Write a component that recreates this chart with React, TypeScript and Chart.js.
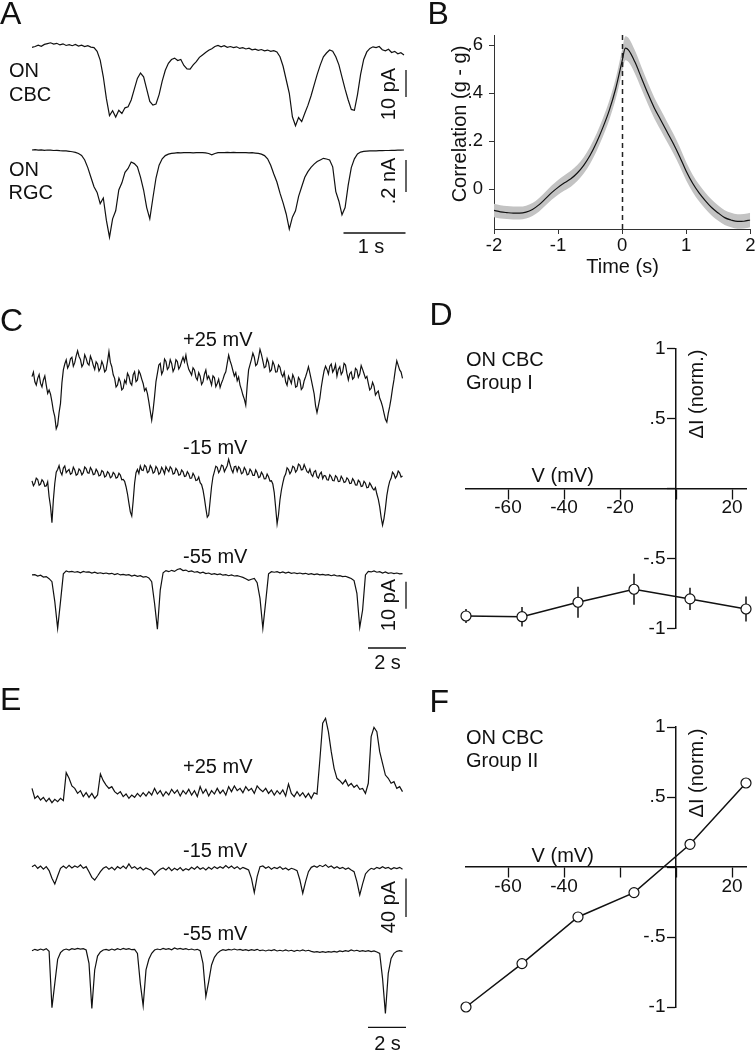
import React, { useEffect, useRef } from 'react';
import { Chart, registerables } from 'chart.js';

Chart.register(...registerables);

const FONT = '"Liberation Sans", Arial, Helvetica, sans-serif';
Chart.defaults.font.family = FONT;
Chart.defaults.color = '#111';

// ---------------- DATA ----------------
// Panel A: ON CBC current (pA) and ON RGC current (nA), sampled every dtA seconds
const dtA = 0.05;
const cbcTrace = [-0.5,-0.2,0.3,-0.1,0.6,0.9,1.2,0.7,1.0,0.4,0.8,0.2,0.5,0.1,0.6,0.0,0.3,-0.2,0.1,-0.4,-0.6,-2.0,-5.2,-11.4,-19.5,-25.8,-24.0,-26.3,-23.8,-25.0,-22.9,-22.5,-20.0,-16.0,-12.0,-10.0,-11.4,-16.0,-20.5,-21.9,-21.5,-18.0,-13.0,-9.0,-6.4,-5.0,-4.5,-5.4,-5.0,-7.2,-8.5,-8.6,-7.0,-5.8,-4.2,-3.3,-2.4,-1.6,-1.0,-0.2,0.2,-0.3,0.1,-0.5,-0.2,-0.6,-0.3,-0.9,-0.6,-1.1,-0.8,-1.4,-1.2,-1.6,-1.3,-1.8,-1.5,-2.0,-1.7,-2.2,-4.0,-7.5,-12.5,-17.5,-26.2,-29.5,-26.5,-28.0,-24.9,-22.0,-18.5,-14.5,-10.5,-7.0,-4.0,-2.6,-1.5,-1.9,-4.0,-7.0,-11.5,-16.0,-20.0,-23.5,-23.8,-18.0,-10.5,-5.0,-2.2,-0.9,-0.3,-0.6,-0.2,-1.4,-1.8,-1.2,-2.4,-2.0,-2.9,-2.5,-3.3];
const rgcTrace = [0,0.002,-0.001,0.001,-0.002,0,-0.001,-0.003,-0.002,-0.004,-0.005,-0.006,-0.008,-0.011,-0.015,-0.022,-0.034,-0.062,-0.11,-0.17,-0.23,-0.265,-0.335,-0.3,-0.44,-0.545,-0.43,-0.38,-0.25,-0.205,-0.14,-0.115,-0.075,-0.085,-0.105,-0.17,-0.25,-0.36,-0.43,-0.3,-0.175,-0.095,-0.055,-0.035,-0.026,-0.021,-0.019,-0.017,-0.018,-0.016,-0.017,-0.016,-0.018,-0.016,-0.017,-0.016,-0.018,-0.022,-0.03,-0.022,-0.017,-0.016,-0.017,-0.015,-0.016,-0.015,-0.017,-0.016,-0.017,-0.016,-0.018,-0.017,-0.019,-0.021,-0.026,-0.035,-0.055,-0.095,-0.15,-0.2,-0.27,-0.33,-0.4,-0.495,-0.42,-0.38,-0.29,-0.23,-0.17,-0.135,-0.108,-0.088,-0.072,-0.062,-0.052,-0.056,-0.062,-0.105,-0.26,-0.32,-0.405,-0.36,-0.22,-0.11,-0.055,-0.025,-0.013,-0.009,-0.007,-0.006,-0.005,-0.005,-0.004,-0.004,-0.003,-0.003,-0.002,-0.002,-0.001,-0.001,0];

// Panel C: ON CBC currents (pA); +25 and -15 mV sampled every dtFine, -55 mV every dtCE
const dtFine = 0.075;
const dtCE = 0.15;
const cPlus25 = [-3.7,-2.0,-5.6,-6.8,-4.3,-2.9,-6.2,-7.5,-4.9,-3.4,-6.8,-9.9,-8.6,-10.2,-13.0,-16.4,-18.5,-23.0,-21.6,-17.0,-13.6,-6.0,-1.2,1.0,2.5,-0.5,0.6,2.9,3.5,0.2,1.5,4.0,5.9,3.8,2.7,0.0,1.0,4.4,3.1,1.2,0.6,3.9,2.5,0.5,-1.0,1.8,1.0,-1.6,-0.6,2.0,0.6,-1.9,-1.2,2.0,5.6,1.6,0,-3.0,-4.3,-7.5,-6.8,-4.2,-5.6,-8.6,-8.0,-5.0,-6.2,-2.4,-3.5,-6.0,-6.8,-3.0,-1.9,-5.5,-4.9,-1.5,-2.7,-4.6,-6.2,-8.9,-8.0,-10.0,-13.0,-16.5,-19.8,-16.0,-11.1,-5.5,-2.5,0.6,1.2,-2.8,-1.5,2.8,1.9,-1.0,-0.2,2.6,1.2,-1.8,-0.6,2.6,1.9,-0.8,0.2,2.0,3.5,1.8,4.3,1.0,-1.0,-2.0,-3.1,-0.4,-1.2,-3.9,-4.9,-2.2,-3.5,-6.6,-5.6,-2.8,-1.2,-4.6,-3.5,-5.0,-6.8,-3.4,-4.0,-7.4,-6.2,-4.6,-7.7,-6.0,-4.7,-3.0,-1.9,1.2,4.3,2.2,0.6,-1.5,-3.5,-2.2,-5.2,-3.8,-6.8,-8.5,-10.5,-12.0,-14.2,-7.0,-1.2,0.8,2.7,5.0,3.5,0.4,1.0,3.4,6.4,4.6,2.2,-0.4,0,3.0,1.5,-1.8,-1.2,1.9,0.6,-2.0,-1.9,0.6,-0.2,-2.6,-3.7,-2.0,-5.6,-6.9,-3.5,-4.8,-6.2,-3.0,-4.3,-7.6,-7.2,-4.0,-4.9,-8.4,-7.7,-5.2,-3.7,-2.0,0,-2.4,-4.9,-7.5,-10.1,-14.5,-17.0,-14.4,-11.7,-7.6,-4.3,-1.5,0.2,-1.0,-2.7,0.2,1.0,-2.0,-1.0,0.8,-3.5,-1.0,0,-2.9,-1.9,1.2,0.6,-2.5,-4.9,-2.6,-1.9,-4.6,-4.0,-0.6,-1.2,-3.9,-2.7,0.4,-1.0,-2.6,-4.3,-3.6,-6.2,-8.6,-8.0,-5.8,-7.2,-10.5,-9.6,-9.0,-11.7,-13.0,-14.8,-17.2,-19.5,-20.5,-17.3,-14.8,-11.7,-8.0,-4.9,-1.0,2.2,0.5,-1.2,-2.0,-4.3];
const cMinus15 = [-4.0,-5.8,-4.9,-3.0,-3.5,-5.6,-5.2,-3.6,-4.3,-6.0,-5.9,-4.4,-9.9,-13.5,-19.5,-11.0,-4.9,-0.8,0.2,1.6,-0.7,-1.8,0.7,1.5,-1.0,-0.3,0.2,-1.6,-1.2,1.0,0,-1.9,-1.5,0.4,-0.2,-1.8,-1.0,1.1,0.5,-1.0,-1.2,0.9,0,-1.7,-1.5,0.3,-0.6,-2.2,-1.9,-0.2,-0.7,-2.6,-2.2,-0.6,-1.2,-2.9,-2.5,-0.9,-1.5,-3.0,-2.7,-1.2,-1.9,-3.6,-3.5,-4.2,-6.2,-8.8,-12.3,-15.5,-17.0,-11.5,-4.9,-1.0,0.2,-1.3,1.5,0.0,-0.2,1.8,1.2,-1.0,-0.5,1.6,0.7,-1.2,-0.7,1.3,0.5,-1.6,-1.0,1.0,0,-1.4,1.2,0.2,-0.6,1.2,0.5,-1.5,-1.2,0.6,-0.2,-1.9,-1.7,0.0,-0.7,-2.4,-2.2,-0.6,-1.5,-3.1,-3.0,-1.2,-2.2,-3.9,-3.7,-2.6,-4.7,-5.4,-7.4,-10.5,-14.2,-17.5,-16.7,-11.5,-6.2,-2.5,-0.6,1.4,1.0,-1.0,0,1.8,1.5,-0.6,0.5,1.6,4.0,2.0,0.2,-1.0,1.2,1.4,-0.5,1.2,0.5,-1.4,-1.0,0.9,0,-1.8,-1.5,0.3,-0.5,-2.0,-2.0,0.0,-1.0,-2.8,-2.5,-0.8,-1.7,-3.3,-3.2,-1.5,-2.5,-4.1,-4.0,-5.2,-8.4,-14.0,-20.0,-16.5,-11.1,-7.5,-4.9,-2.6,-1.5,0.8,0.2,-1.4,-0.5,1.4,1.0,-0.8,0,2.2,1.7,0.0,0.2,2.0,0.7,-0.6,-1.0,0.3,-1.7,-2.4,-0.7,-0.2,-2.5,-3.0,-1.5,-0.8,-3.2,-2.0,-2.2,-3.6,-3.7,-1.8,-2.5,-3.9,-4.0,-2.1,-2.7,-4.3,-4.2,-2.3,-3.2,-4.6,-4.4,-2.9,-3.5,-5.0,-4.9,-3.2,-4.0,-5.5,-5.6,-3.8,-4.4,-6.1,-5.9,-4.2,-4.9,-6.6,-6.4,-4.8,-5.7,-6.8,-7.4,-6.5,-8.9,-10.8,-13.6,-17.5,-20.4,-18.0,-14.2,-9.5,-6.4,-4.2,-3.1,-0.8,-1.5,-3.0,-2.2,-0.4,-1.0,-2.6,-2.2];
const cMinus55 = [-0.6,-0.5,-1.0,-0.7,-1.4,-1.2,-2.0,-3.1,-10.5,-20.4,-10.5,-0.2,0.9,0.5,0.7,0.4,0.6,0.2,0.7,0.4,0.5,0.1,0.4,0,0.2,-0.1,0.1,-0.2,0,-0.5,-0.1,-0.6,-0.4,-0.7,-0.5,-1.0,-0.7,-1.1,-0.9,-1.4,-1.2,-1.7,-3.1,-11.1,-20.7,-6.2,0.2,1.0,0.6,1.1,0.7,1.4,1.7,1.0,1.2,0.6,0.9,0.4,0.6,0.1,0.4,-0.1,0.1,-0.4,-0.1,-0.5,-0.2,-0.7,-0.5,-0.9,-0.6,-1.0,-0.9,-1.2,-1.5,-2.0,-2.6,-2.2,-1.9,-3.5,-9.3,-20.4,-10.5,-0.2,0.6,0.4,0.6,0.2,0.5,0.1,0.4,0,0.2,-0.1,0.1,-0.2,0,-0.4,-0.1,-0.5,-0.2,-0.6,-0.4,-0.7,-0.5,-0.9,-0.6,-1.0,-0.9,-1.2,-1.1,-1.5,-1.9,-2.7,-7.4,-20.0,-13.6,-0.6,0.7,0.5,0.9,0.4,0.6,0.1,0.5,0,0.2,-0.1,0.1,-0.2,-0.1];

// Panel E: ON CBC currents (pA), sampled every dtCE seconds
const ePlus25 = [6.9,-3.5,-1.0,-5.2,-2.4,-6.9,-3.5,-8.0,-4.5,-6.9,-3.5,-5.9,23.3,17.4,9.4,6.9,1.7,4.5,-1.7,2.4,-2.4,1.7,-3.5,0,21.9,14.9,10.4,6.9,8.7,3.5,1.0,3.5,-1.7,1.0,-3.5,0,-2.4,1.7,-1.7,2.4,-1.0,3.5,0,6.9,1.0,4.5,-1.0,3.5,0,5.9,1.7,5.2,-1.0,4.5,1.0,5.9,0,4.5,-1.7,8.7,1.7,5.9,-1.0,4.5,1.0,6.9,1.7,5.2,0,8.7,3.5,9.4,4.5,6.9,2.4,8.7,4.5,6.9,1.7,9.4,5.9,3.5,6.9,1.7,5.2,0,4.5,1.0,5.2,-1.0,11.5,1.7,-1.7,3.5,-1.0,2.4,-2.4,1.7,-3.5,2.4,1.0,36.5,74.7,79.9,66.0,45.1,27.8,17.4,14.9,11.5,15.6,9.4,12.2,8.0,10.4,5.9,6.9,1.7,12.2,60.8,70.5,66.0,45.1,33.0,20.8,17.4,12.2,13.9,6.9,8.7,3.5];
const eMinus15 = [1.7,3.5,0,2.4,-1.0,1.7,-2.4,-10.4,-16.3,-8.0,0,2.4,0,3.1,0.3,2.4,1.0,3.5,0,1.7,-3.5,-9.4,-12.2,-8.0,-3.5,0,1.7,-1.0,1.0,-1.7,1.7,-0.3,2.4,-0.3,4.5,0,1.7,-1.0,1.0,-1.7,0.3,-1.0,-2.4,-6.9,-3.5,-1.0,0.3,-1.7,1.0,-2.4,0,-1.7,0.7,-2.4,-0.3,-1.7,1.0,-1.0,1.7,-1.0,0.7,-1.7,1.0,-1.0,1.7,-0.3,1.7,0,2.8,0.3,2.4,-0.3,1.7,-1.0,1.0,-0.3,-1.7,-10.4,-25.3,-8.7,1.7,2.4,0,1.7,-1.0,1.0,-0.3,1.7,-1.0,0.3,-1.7,0,-1.0,-2.4,-12.2,-26.0,-13.9,-3.5,1.0,2.4,1.0,3.1,1.7,3.8,1.0,2.4,0,1.7,-0.3,1.0,-1.0,0.3,-1.7,-3.5,-13.9,-27.8,-16.3,-5.9,-2.4,0,-1.0,1.0,-0.3,1.7,0,1.0,-1.0,0.7,-0.3,1.0,-1.0];
const eMinus55 = [-0.7,0.7,-0.3,1.0,0,1.4,-1.4,-60.0,-34.7,-9.7,-2.8,0,1.0,0,1.4,0.7,1.7,1.0,1.4,0,-13.9,-60.8,-20.8,-6.3,-2.1,0,0.7,-0.3,1.0,0,1.4,0.3,1.7,0.7,1.4,0.3,0.7,-3.5,-34.7,-58.0,-20.8,-9.7,-3.5,0,1.0,0.3,1.7,0.7,1.4,0.3,2.1,1.0,1.7,0.7,1.4,0.3,1.0,0,0.7,-0.7,-13.9,-48.6,-33.0,-15.6,-7.6,-3.5,-1.0,0.3,-0.3,0.7,0,1.0,0,0.7,-0.3,0.3,-0.7,0.3,-0.3,0.7,-0.7,0,-1.0,0,-0.7,0.3,-1.0,-0.3,-1.0,0,-1.0,-0.3,-1.4,-0.3,-1.0,0,-1.0,-0.3,-1.4,-2.1,-1.7,-2.4,-1.7,-2.4,-1.7,-2.1,-1.4,-2.1,-1.0,-1.7,-0.7,-1.4,0,-1.0,-0.3,-1.4,-0.7,-1.4,-0.7,-1.7,-1.0,-2.1,-3.5,-29.5,-66.0,-24.3,-8.7,-3.5,-1.4,-0.7,-1.4];

// Panel B: cross-correlation (g - g), mean and s.e.m.
const corrTime = [-2,-1.9,-1.8,-1.7,-1.6,-1.5,-1.4,-1.3,-1.2,-1.1,-1,-0.9,-0.8,-0.7,-0.6,-0.5,-0.4,-0.3,-0.2,-0.1,0,0.05,0.1,0.2,0.3,0.4,0.5,0.6,0.7,0.8,0.9,1,1.1,1.2,1.3,1.4,1.5,1.6,1.7,1.8,1.9,2];
const corrMean = [-0.088,-0.094,-0.097,-0.099,-0.099,-0.095,-0.084,-0.065,-0.04,-0.014,0.008,0.027,0.044,0.068,0.1,0.142,0.195,0.258,0.33,0.42,0.535,0.588,0.58,0.53,0.465,0.4,0.34,0.29,0.24,0.19,0.135,0.075,0.025,-0.015,-0.048,-0.077,-0.099,-0.118,-0.128,-0.134,-0.133,-0.128];
const corrSem = [0.028,0.028,0.027,0.027,0.027,0.027,0.027,0.028,0.029,0.03,0.031,0.032,0.033,0.033,0.034,0.035,0.036,0.038,0.04,0.043,0.048,0.05,0.05,0.048,0.046,0.045,0.044,0.043,0.042,0.041,0.04,0.038,0.036,0.035,0.034,0.033,0.032,0.031,0.03,0.03,0.03,0.03];
const corrXTicks = [-2, -1, 0, 1, 2];
const corrYTicks = [0, 0.2, 0.4, 0.6];

// Panels D and F: normalized current change vs holding potential
const ivVoltage = [-75, -55, -35, -15, 5, 25];
const groupIMean = [-0.912, -0.917, -0.814, -0.721, -0.79, -0.862];
const groupISem = [0.05, 0.07, 0.11, 0.11, 0.08, 0.09];
const groupIIMean = [-1.0, -0.69, -0.357, -0.183, 0.162, 0.6];
const groupIISem = [0.02, 0.035, 0.025, 0.02, 0.02, 0.02];
const ivXTicks = [-60, -40, -20, 0, 20];
const ivYTicks = [-1, -0.5, 0, 0.5, 1];

// ---------------- HELPERS ----------------
const INK = '#111';
const fmt = (v: number) => {
  if (v === 0) return '0';
  const s = String(Math.round(v * 100) / 100);
  return s.replace(/^(-?)0\./, '$1.');
};

type Box = { left: number; top: number; width: number; height: number };
type TraceSpec = { values: number[]; dt: number; baseY: number; pxPerUnit: number };
type Bar = { kind: 'v' | 'h'; axis: string; amount: number; x: number; y: number };

function scaleBarPlugin(box: Box, bars: Bar[]) {
  return {
    id: 'scaleBars',
    afterDatasetsDraw(chart: any) {
      const ctx = chart.ctx;
      ctx.save();
      ctx.strokeStyle = INK;
      ctx.lineWidth = 1.3;
      bars.forEach((b) => {
        const s = chart.scales[b.axis];
        const len = Math.abs(s.getPixelForValue(b.amount) - s.getPixelForValue(0));
        const x = b.x - box.left;
        const y = b.y - box.top;
        ctx.beginPath();
        if (b.kind === 'v') {
          ctx.moveTo(x, y);
          ctx.lineTo(x, y + len);
        } else {
          ctx.moveTo(x - len, y);
          ctx.lineTo(x, y);
        }
        ctx.stroke();
      });
      ctx.restore();
    },
  };
}

function traceConfig(box: Box, x0Page: number, pxPerSec: number, traces: TraceSpec[], bars: Bar[]) {
  const scales: any = {
    x: {
      type: 'linear',
      display: false,
      min: (box.left - x0Page) / pxPerSec,
      max: (box.left + box.width - x0Page) / pxPerSec,
    },
  };
  traces.forEach((tr, i) => {
    scales['y' + i] = {
      type: 'linear',
      axis: 'y',
      display: false,
      max: (tr.baseY - box.top) / tr.pxPerUnit,
      min: -(box.top + box.height - tr.baseY) / tr.pxPerUnit,
    };
  });
  const datasets = traces.map((tr, i) => ({
    data: tr.values.map((v, k) => ({ x: k * tr.dt, y: v })),
    yAxisID: 'y' + i,
    borderColor: INK,
    borderWidth: 1.2,
    pointRadius: 0,
    fill: false,
    tension: 0,
  }));
  return {
    type: 'line',
    data: { datasets },
    options: {
      animation: false,
      responsive: false,
      devicePixelRatio: 1,
      events: [],
      layout: { padding: 0 },
      plugins: { legend: { display: false }, tooltip: { enabled: false } },
      scales,
    },
    plugins: [scaleBarPlugin(box, bars)],
  };
}

const zeroPad = (s: any) => {
  s.paddingLeft = 0;
  s.paddingRight = 0;
  s.paddingTop = 0;
  s.paddingBottom = 0;
};

function corrConfig() {
  const upper = corrTime.map((t, i) => ({ x: t, y: corrMean[i] + corrSem[i] }));
  const lower = corrTime.map((t, i) => ({ x: t, y: corrMean[i] - corrSem[i] }));
  const mean = corrTime.map((t, i) => ({ x: t, y: corrMean[i] }));
  const dashPlugin = {
    id: 'zeroDash',
    afterDatasetsDraw(chart: any) {
      const ctx = chart.ctx;
      const x = Math.round(chart.scales.x.getPixelForValue(0)) + 0.5;
      ctx.save();
      ctx.strokeStyle = '#222';
      ctx.lineWidth = 1.5;
      ctx.setLineDash([5, 4]);
      ctx.beginPath();
      ctx.moveTo(x, chart.chartArea.top);
      ctx.lineTo(x, chart.chartArea.bottom);
      ctx.stroke();
      ctx.restore();
    },
  };
  const axisCommon = {
    grid: { drawOnChartArea: false, tickLength: 5, tickColor: '#333', tickWidth: 1 },
    border: { color: '#333', width: 1 },
  };
  return {
    type: 'line',
    data: {
      datasets: [
        { data: mean, borderWidth: 1.2, borderColor: INK, pointRadius: 0, fill: false, cubicInterpolationMode: 'monotone', order: 0 },
        { data: upper, borderWidth: 0, borderColor: 'rgba(0,0,0,0)', pointRadius: 0, fill: '+1', backgroundColor: '#c3c3c3', cubicInterpolationMode: 'monotone', order: 1 },
        { data: lower, borderWidth: 0, borderColor: 'rgba(0,0,0,0)', pointRadius: 0, fill: false, cubicInterpolationMode: 'monotone', order: 2 },
      ],
    },
    options: {
      animation: false,
      responsive: false,
      devicePixelRatio: 1,
      events: [],
      layout: { padding: { left: 0, right: 4.7, top: 35, bottom: 0 } },
      plugins: { legend: { display: false }, tooltip: { enabled: false } },
      scales: {
        x: {
          type: 'linear',
          min: -2,
          max: 2,
          ...axisCommon,
          afterBuildTicks: (s: any) => { s.ticks = corrXTicks.map((v) => ({ value: v })); },
          afterFit: (s: any) => { s.height = 46; zeroPad(s); },
          ticks: { font: { size: 18.5, lineHeight: 1 }, padding: 3, color: '#111', maxRotation: 0, autoSkip: false, callback: (v: any) => fmt(Number(v)) },
        },
        y: {
          type: 'linear',
          min: -0.1654,
          max: 0.643,
          ...axisCommon,
          afterBuildTicks: (s: any) => { s.ticks = corrYTicks.map((v) => ({ value: v })); },
          afterFit: (s: any) => { s.width = 74; zeroPad(s); },
          ticks: { font: { size: 18.5, lineHeight: 1 }, padding: 6, color: '#111', autoSkip: false, callback: (v: any) => fmt(Number(v)) },
        },
      },
    },
    plugins: [dashPlugin],
  };
}

function ivConfig(mean: number[], sem: number[], hiddenX: number[], padTop: number, padBottom: number) {
  const errPlugin = {
    id: 'errBars',
    beforeDatasetsDraw(chart: any) {
      const ctx = chart.ctx;
      const xs = chart.scales.x;
      const ys = chart.scales.y;
      ctx.save();
      ctx.strokeStyle = INK;
      ctx.lineWidth = 1.5;
      ivVoltage.forEach((v, i) => {
        const x = xs.getPixelForValue(v);
        ctx.beginPath();
        ctx.moveTo(x, ys.getPixelForValue(mean[i] + sem[i]));
        ctx.lineTo(x, ys.getPixelForValue(mean[i] - sem[i]));
        ctx.stroke();
      });
      ctx.restore();
    },
  };
  return {
    type: 'line',
    data: {
      datasets: [
        {
          data: ivVoltage.map((v, i) => ({ x: v, y: mean[i] })),
          borderColor: INK,
          borderWidth: 1.5,
          pointRadius: 5,
          pointBackgroundColor: '#fff',
          pointBorderColor: INK,
          pointBorderWidth: 1.2,
          clip: false,
          tension: 0,
          fill: false,
        },
      ],
    },
    options: {
      animation: false,
      responsive: false,
      devicePixelRatio: 1,
      events: [],
      layout: { padding: { left: 46, right: 9, top: padTop, bottom: padBottom } },
      plugins: { legend: { display: false }, tooltip: { enabled: false } },
      scales: {
        x: {
          type: 'linear',
          min: -75,
          max: 25,
          position: { y: 0 },
          afterBuildTicks: (s: any) => { s.ticks = ivXTicks.map((v) => ({ value: v })); },
          afterFit: (s: any) => zeroPad(s),
          grid: { drawOnChartArea: false, tickLength: 10, tickColor: INK, tickWidth: 1.3 },
          border: { color: INK, width: 1.5 },
          ticks: {
            font: { size: 19, lineHeight: 1 },
            padding: 0,
            color: '#111',
            maxRotation: 0,
            autoSkip: false,
            callback: (v: any) => (Number(v) === 0 || hiddenX.includes(Number(v)) ? '' : String(v)),
          },
        },
        y: {
          type: 'linear',
          min: -1,
          max: 1,
          position: { x: 0 },
          afterBuildTicks: (s: any) => { s.ticks = ivYTicks.map((v) => ({ value: v })); },
          afterFit: (s: any) => zeroPad(s),
          grid: { drawOnChartArea: false, tickLength: 8, tickColor: INK, tickWidth: 1.3 },
          border: { color: INK, width: 1.5 },
          ticks: {
            font: { size: 19, lineHeight: 1 },
            padding: 3,
            color: '#111',
            autoSkip: false,
            // trailing spaces keep the right-aligned label clear of the tick mark
            callback: (v: any) => (Number(v) === 0 ? '' : fmt(Number(v)) + '  '),
          },
        },
      },
    },
    plugins: [errPlugin],
  };
}

// ---------------- LAYOUT ----------------
const boxA: Box = { left: 0, top: 30, width: 420, height: 240 };
const boxB: Box = { left: 420, top: 0, width: 335, height: 275 };
const boxC: Box = { left: 0, top: 340, width: 420, height: 330 };
const boxD: Box = { left: 420, top: 300, width: 335, height: 345 };
const boxE: Box = { left: 0, top: 700, width: 420, height: 345 };
const boxF: Box = { left: 420, top: 680, width: 335, height: 345 };

function ChartBox({ box, make }: { box: Box; make: () => any }) {
  const ref = useRef<HTMLCanvasElement | null>(null);
  useEffect(() => {
    if (!ref.current) return;
    const chart = new Chart(ref.current, make());
    return () => chart.destroy();
  }, []);
  return (
    <canvas
      ref={ref}
      width={box.width}
      height={box.height}
      style={{ position: 'absolute', left: box.left, top: box.top, width: box.width, height: box.height }}
    />
  );
}

type Lab = { t: string; x: number; y: number; s?: number; a?: 'l' | 'c' | 'r'; r?: boolean };

function Label({ t, x, y, s = 20, a = 'l', r = false }: Lab) {
  const tx = a === 'l' ? '0%' : a === 'c' ? '-50%' : '-100%';
  return (
    <div
      style={{
        position: 'absolute',
        left: x,
        top: y,
        fontSize: s,
        lineHeight: `${s}px`,
        fontFamily: FONT,
        color: INK,
        whiteSpace: 'nowrap',
        transform: r ? 'translate(-50%,-50%) rotate(-90deg)' : `translate(${tx},-50%)`,
      }}
    >
      {t}
    </div>
  );
}

const labels: Lab[] = [
  { t: 'A', x: 0, y: 13.3, s: 32 },
  { t: 'B', x: 427.5, y: 13.3, s: 32 },
  { t: 'C', x: 0, y: 320, s: 32 },
  { t: 'D', x: 429.5, y: 314, s: 32 },
  { t: 'E', x: 0, y: 698.5, s: 32 },
  { t: 'F', x: 429.5, y: 701, s: 32 },
  { t: 'ON', x: 9, y: 69.5 },
  { t: 'CBC', x: 9, y: 93.5 },
  { t: 'ON', x: 9, y: 168.5 },
  { t: 'RGC', x: 8.5, y: 191.5 },
  { t: '10 pA', x: 388, y: 94, r: true },
  { t: '.2 nA', x: 388, y: 181, r: true },
  { t: '1 s', x: 371, y: 246, a: 'c' },
  { t: 'Correlation (g - g)', x: 459, y: 124, r: true },
  { t: 'Time (s)', x: 622.5, y: 265.5, a: 'c' },
  { t: '+25 mV', x: 183, y: 338.8 },
  { t: '-15 mV', x: 183, y: 447 },
  { t: '-55 mV', x: 183, y: 556.3 },
  { t: '10 pA', x: 388, y: 605, r: true },
  { t: '2 s', x: 387.5, y: 661.7, a: 'c' },
  { t: '+25 mV', x: 183, y: 766.3 },
  { t: '-15 mV', x: 183, y: 849.7 },
  { t: '-55 mV', x: 183, y: 933 },
  { t: '40 pA', x: 388, y: 906.7, r: true },
  { t: '2 s', x: 387.5, y: 1042.5, a: 'c' },
  { t: 'ON CBC', x: 466, y: 359 },
  { t: 'Group I', x: 466, y: 382 },
  { t: 'V (mV)', x: 562.7, y: 474.8, a: 'c' },
  { t: 'ΔI (norm.)', x: 695.5, y: 394, r: true },
  { t: 'ON CBC', x: 466, y: 736.7 },
  { t: 'Group II', x: 466, y: 760 },
  { t: 'V (mV)', x: 562.7, y: 854.5, a: 'c' },
  { t: 'ΔI (norm.)', x: 695.5, y: 772.5, r: true },
];

const makeA = () =>
  traceConfig(
    boxA,
    32,
    62,
    [
      { values: cbcTrace, dt: dtA, baseY: 46, pxPerUnit: 2.7 },
      { values: rgcTrace, dt: dtA, baseY: 150, pxPerUnit: 160 },
    ],
    [
      { kind: 'v', axis: 'y0', amount: 10, x: 406, y: 70 },
      { kind: 'v', axis: 'y1', amount: 0.2, x: 406, y: 160 },
      { kind: 'h', axis: 'x', amount: 1, x: 405.5, y: 233 },
    ]
  );

const makeC = () =>
  traceConfig(
    boxC,
    32,
    19,
    [
      { values: cPlus25, dt: dtFine, baseY: 366.7, pxPerUnit: 2.7 },
      { values: cMinus15, dt: dtFine, baseY: 470, pxPerUnit: 2.7 },
      { values: cMinus55, dt: dtCE, baseY: 573.3, pxPerUnit: 2.7 },
    ],
    [
      { kind: 'v', axis: 'y2', amount: 10, x: 406, y: 581.7 },
      { kind: 'h', axis: 'x', amount: 2, x: 406, y: 648 },
    ]
  );

const makeE = () =>
  traceConfig(
    boxE,
    32,
    19,
    [
      { values: ePlus25, dt: dtCE, baseY: 795, pxPerUnit: 0.96 },
      { values: eMinus15, dt: dtCE, baseY: 868.3, pxPerUnit: 0.96 },
      { values: eMinus55, dt: dtCE, baseY: 950, pxPerUnit: 0.96 },
    ],
    [
      { kind: 'v', axis: 'y1', amount: 40, x: 406, y: 878.5 },
      { kind: 'h', axis: 'x', amount: 2, x: 406, y: 1027.3 },
    ]
  );

export default function App() {
  return (
    <div
      style={{
        position: 'absolute',
        left: 0,
        top: 0,
        width: 755,
        height: 1050,
        background: '#fff',
        overflow: 'hidden',
        fontFamily: FONT,
      }}
    >
      <ChartBox box={boxA} make={makeA} />
      <ChartBox box={boxB} make={corrConfig} />
      <ChartBox box={boxC} make={makeC} />
      <ChartBox box={boxD} make={() => ivConfig(groupIMean, groupISem, [], 48.3, 16.7)} />
      <ChartBox box={boxE} make={makeE} />
      <ChartBox box={boxF} make={() => ivConfig(groupIIMean, groupIISem, [-20], 47, 18)} />
      {labels.map((l, i) => (
        <Label key={i} {...l} />
      ))}
    </div>
  );
}
